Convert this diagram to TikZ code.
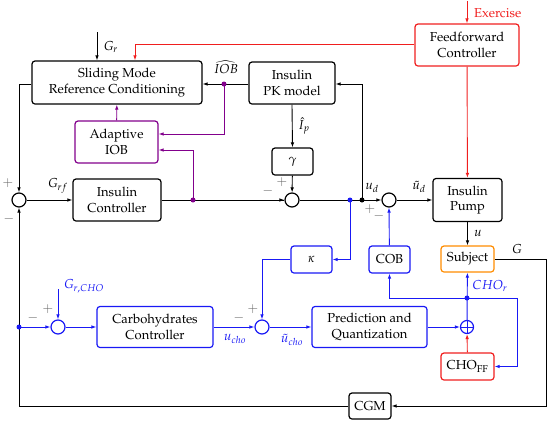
\documentclass[tikz,border=0pt]{standalone}
\usepackage[T1]{fontenc}
\usepackage{mathpazo}
\usetikzlibrary{arrows.meta,calc}
\definecolor{mblue}{RGB}{25,25,245}
\definecolor{mpurple}{RGB}{130,0,140}
\definecolor{morange}{RGB}{255,140,0}
\definecolor{mred}{RGB}{240,30,30}
\begin{document}
\begin{tikzpicture}[x=1pt,y=-1pt,
  font=\fontsize{13}{15.5}\selectfont,
  blk/.style={draw,line width=1.2pt,rounded corners=3pt,align=center,inner sep=0pt},
  sumc/.style={draw,circle,line width=1.2pt,minimum size=14pt,inner sep=0pt},
  conn/.style={line width=0.9pt,-{Latex[length=5pt,width=3.6pt]}},
  ln/.style={line width=0.9pt},
  dotc/.style={circle,fill,inner sep=0pt,minimum size=5pt},
  lbl/.style={inner sep=0pt},
  sgn/.style={inner sep=0pt,text=black!60}]
\useasboundingbox (0,0) rectangle (550,424);
% boxes
\node[blk,minimum width=170pt,minimum height=43pt] (sm) at (117,82.5) {Sliding Mode\\Reference Conditioning};
\node[blk,minimum width=86pt,minimum height=42pt] (pk) at (292,83) {Insulin\\PK model};
\node[blk,draw=mred,minimum width=104pt,minimum height=42pt] (ff) at (467,45) {Feedforward\\Controller};
\node[blk,draw=mpurple,minimum width=83pt,minimum height=42pt] (aiob) at (116.5,142) {Adaptive\\IOB};
\node[blk,minimum width=88pt,minimum height=42pt] (ic) at (117,200) {Insulin\\Controller};
\node[blk,minimum width=41pt,minimum height=27pt] (gam) at (292.5,161.5) {$\gamma$};
\node[blk,minimum width=69pt,minimum height=43pt] (pump) at (467.5,200) {Insulin\\Pump};
\node[blk,draw=morange,minimum width=53pt,minimum height=26pt] (subj) at (467.5,259) {Subject};
\node[blk,draw=mblue,minimum width=41pt,minimum height=27pt] (kap) at (311.5,259.5) {$\kappa$};
\node[blk,draw=mblue,minimum width=41pt,minimum height=27pt] (cob) at (389.5,259.5) {COB};
\node[blk,draw=mblue,minimum width=116pt,minimum height=41pt] (cc) at (155,327) {Carbohydrates\\Controller};
\node[blk,draw=mblue,minimum width=115pt,minimum height=41pt] (pq) at (369.5,327) {Prediction and\\Quantization};
\node[blk,draw=mred,minimum width=53pt,minimum height=27pt] (choff) at (467.5,366.5) {CHO$_{\mathrm{FF}}$};
\node[blk,minimum width=42pt,minimum height=26pt] (cgm) at (370,406) {CGM};
% sums
\node[sumc] (s1) at (19,200) {};
\node[sumc] (s2) at (292,200) {};
\node[sumc] (s3) at (389,200) {};
\node[sumc,draw=mblue] (s4) at (58,327) {};
\node[sumc,draw=mblue] (s5) at (262,327) {};
\node[sumc,draw=mblue,minimum size=13pt] (op) at (467,327) {};
\draw[mblue,line width=0.8pt] (op.north) -- (op.south) (op.west) -- (op.east);
% coordinates
\coordinate (gr) at (97,32);
\coordinate (ex) at (467,1);
\coordinate (pd1) at (224,84);
\coordinate (pd2) at (193,200);
\coordinate (bd0) at (350,200);
\coordinate (bk) at (362,200);
\coordinate (bd1) at (19,327);
\coordinate (grcho) at (58,289);
\coordinate (dd) at (467,298);
\coordinate (gc) at (546,259);
\coordinate (rc) at (517,298);
% black connectors
\draw[conn] (gr) -- (gr |- sm.north);
\draw[conn] (sm.west |- pd1) -| (s1.north);
\draw[conn] (pk.west |- pd1) -- (sm.east |- pd1);
\draw[conn] (s1) -- (ic);
\draw[ln] (ic) -- (s2.west);
\draw[conn] (pd2) -- (s2);
\draw[conn] (pk.south) -- (gam.north);
\draw[conn] (gam) -- (s2);
\draw[conn] (s2) -- (s3);
\draw[conn] (bk) |- (pk.east |- pd1);
\draw[conn] (s3) -- (pump);
\draw[conn] (pump) -- (subj);
\draw[conn] (subj.east) -- (gc) |- (cgm.east);
\draw[conn] (cgm.west) -| (s1.south);
% red
\draw[conn,mred] (ex) -- (ff.north);
\draw[conn,mred] (ff.west |- 0,44) -| ([xshift=18pt]sm.north);
\draw[conn,mred] (ff) -- (pump);
\draw[conn,mred] (choff) -- (op);
% purple
\draw[conn,mpurple] (pd1) |- ([yshift=8pt]aiob.east);
\draw[conn,mpurple] (pd2) |- ([yshift=-8pt]aiob.east);
\draw[conn,mpurple] (aiob) -- (sm);
\node[dotc,mpurple] at (pd1) {};
\node[dotc,mpurple] at (pd2) {};
% blue
\draw[conn,mblue] (bd0) |- (kap.east);
\draw[conn,mblue] (kap.west) -| (s5.north);
\draw[conn,mblue] (bd1) -- (s4);
\draw[conn,mblue] (grcho) -- (s4.north);
\draw[conn,mblue] (s4) -- (cc);
\draw[conn,mblue] (cc) -- (s5);
\draw[conn,mblue] (s5) -- (pq);
\draw[conn,mblue] (pq) -- (op);
\draw[conn,mblue] (op) -- (subj);
\draw[conn,mblue] (dd) -| (cob.south);
\draw[conn,mblue] (dd) -- (rc) |- (choff.east);
\draw[conn,mblue] (cob) -- (s3.south);
\node[dotc,mblue] at (bd0) {};
\node[dotc] at (bk) {};
\node[dotc,mblue] at (bd1) {};
\node[dotc,mblue] at (dd) {};
% labels
\node[lbl,mred,anchor=west] at (474,13) {Exercise};
\node[lbl] at (111,47) {$G_r$};
\node[lbl] at (226,67) {$\widehat{IOB}$};
\node[lbl] at (304,126) {$\hat{I}_p$};
\node[lbl] at (58,186) {$G_{rf}$};
\node[sgn] at (8,183) {$+$};
\node[sgn] at (9,219) {$-$};
\node[sgn] at (282,182) {$+$};
\node[sgn] at (268,191) {$-$};
\node[lbl] at (372,188) {$u_d$};
\node[sgn] at (370,209) {$+$};
\node[sgn] at (379,216) {$-$};
\node[lbl] at (419,187) {$\tilde{u}_d$};
\node[lbl] at (478,233) {$u$};
\node[lbl] at (517,249) {$G$};
\node[lbl,mblue] at (490,286) {$CHO_r$};
\node[sgn] at (33,318) {$-$};
\node[sgn] at (48,309) {$+$};
\node[lbl,mblue] at (84,286) {$G_{r,CHO}$};
\node[lbl,mblue] at (235,339) {$u_{cho}$};
\node[sgn] at (239,318) {$-$};
\node[sgn] at (253,309) {$+$};
\node[lbl,mblue] at (292,340) {$\tilde{u}_{cho}$};
\end{tikzpicture}
\end{document}
